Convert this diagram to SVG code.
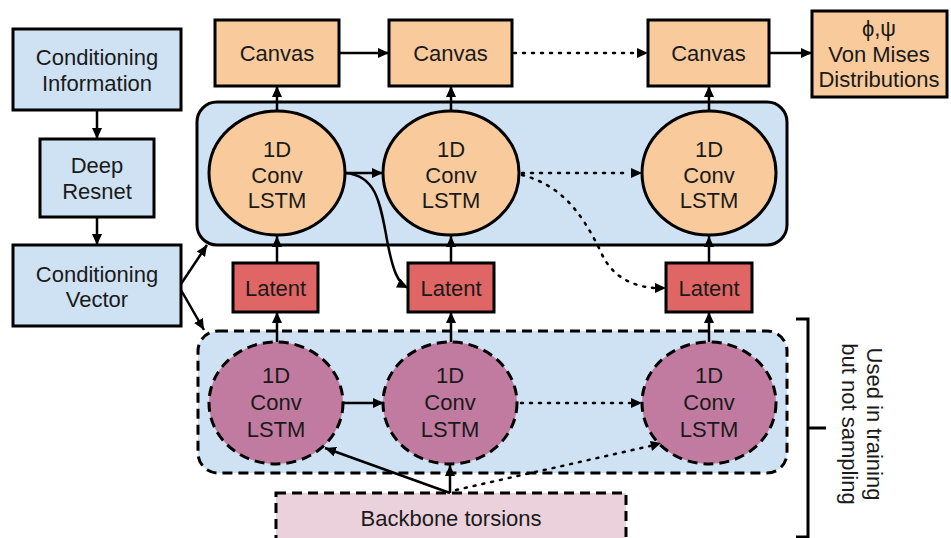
<svg xmlns="http://www.w3.org/2000/svg" width="951" height="538" viewBox="0 0 951 538">
  <defs>
    <marker id="arrow" viewBox="0 0 11 10" refX="11" refY="5" markerWidth="11" markerHeight="10" markerUnits="userSpaceOnUse" orient="auto">
      <path d="M0,0 L11,5 L0,10 z" fill="#000"/>
    </marker>
    <style>
      text { font-family: "Liberation Sans", Arial, sans-serif; font-size: 22px; fill: #1a1a1a; text-anchor: middle; }
      .box { stroke: #000; stroke-width: 3; }
      .blue { fill: #cfe2f3; }
      .orange { fill: #f9cb9c; }
      .red { fill: #e06666; }
      .purple { fill: #c27ba0; }
      .pink { fill: #ead1dc; }
      .dash { stroke-dasharray: 10 6; }
      .edge { fill: none; stroke: #000; stroke-width: 2.5; }
      .dot { stroke-dasharray: 2 7; stroke-linecap: round; }
    </style>
  </defs>

  <!-- containers -->
  <g id="decoder-stack">
    <rect class="box blue" x="197" y="102" width="590" height="143" rx="20"/>
  </g>
  <g id="encoder-stack">
    <rect class="box blue dash" x="198" y="331" width="589" height="142" rx="20"/>
  </g>

  <!-- conditioning path -->
  <g id="cond-info">
    <rect class="box blue" x="13" y="29" width="168" height="81"/>
    <text x="97" y="65">Conditioning</text>
    <text x="97" y="91">Information</text>
  </g>
  <g id="deep-resnet">
    <rect class="box blue" x="40" y="139" width="114" height="78"/>
    <text x="97" y="173">Deep</text>
    <text x="97" y="199">Resnet</text>
  </g>
  <g id="cond-vector">
    <rect class="box blue" x="13" y="245" width="168" height="81"/>
    <text x="97" y="282">Conditioning</text>
    <text x="97" y="307">Vector</text>
  </g>

  <!-- canvases -->
  <g id="canvas-1">
    <rect class="box orange" x="215" y="20" width="124" height="66"/>
    <text x="277" y="61">Canvas</text>
  </g>
  <g id="canvas-2">
    <rect class="box orange" x="389" y="20" width="123" height="66"/>
    <text x="450.5" y="61">Canvas</text>
  </g>
  <g id="canvas-3">
    <rect class="box orange" x="648" y="20" width="121" height="66"/>
    <text x="708.5" y="61">Canvas</text>
  </g>
  <g id="von-mises">
    <rect class="box orange" x="812" y="11" width="135" height="86"/>
    <text x="879" y="36">ϕ,ψ</text>
    <text x="879" y="62">Von Mises</text>
    <text x="879" y="87">Distributions</text>
  </g>

  <!-- decoder LSTMs -->
  <g id="dec-lstm-1">
    <ellipse class="box orange" cx="277" cy="173" rx="68" ry="62"/>
    <text x="277" y="157">1D</text>
    <text x="277" y="183">Conv</text>
    <text x="277" y="208">LSTM</text>
  </g>
  <g id="dec-lstm-2">
    <ellipse class="box orange" cx="451" cy="173" rx="68" ry="62"/>
    <text x="451" y="157">1D</text>
    <text x="451" y="183">Conv</text>
    <text x="451" y="208">LSTM</text>
  </g>
  <g id="dec-lstm-3">
    <ellipse class="box orange" cx="709" cy="173" rx="67" ry="62"/>
    <text x="709" y="157">1D</text>
    <text x="709" y="183">Conv</text>
    <text x="709" y="208">LSTM</text>
  </g>

  <!-- latents -->
  <g id="latent-1">
    <rect class="box red" x="233" y="263" width="85" height="49"/>
    <text x="275.5" y="296">Latent</text>
  </g>
  <g id="latent-2">
    <rect class="box red" x="408" y="263" width="86" height="49"/>
    <text x="451" y="296">Latent</text>
  </g>
  <g id="latent-3">
    <rect class="box red" x="666" y="263" width="86" height="49"/>
    <text x="709" y="296">Latent</text>
  </g>

  <!-- encoder LSTMs -->
  <g id="enc-lstm-1">
    <ellipse class="box purple dash" cx="276" cy="403" rx="67" ry="61"/>
    <text x="276" y="383">1D</text>
    <text x="276" y="410">Conv</text>
    <text x="276" y="437">LSTM</text>
  </g>
  <g id="enc-lstm-2">
    <ellipse class="box purple dash" cx="450" cy="403" rx="67" ry="61"/>
    <text x="450" y="383">1D</text>
    <text x="450" y="410">Conv</text>
    <text x="450" y="437">LSTM</text>
  </g>
  <g id="enc-lstm-3">
    <ellipse class="box purple dash" cx="709" cy="403" rx="67" ry="61"/>
    <text x="709" y="383">1D</text>
    <text x="709" y="410">Conv</text>
    <text x="709" y="437">LSTM</text>
  </g>

  <g id="backbone">
    <rect class="box pink dash" x="276" y="493" width="350" height="60"/>
    <text x="451" y="526">Backbone torsions</text>
  </g>

  <!-- bracket and side label -->
  <g id="training-note">
    <path d="M796,319 L808,319 L808,537 L796,537 M808,428 L826,428" fill="none" stroke="#000" stroke-width="3"/>
    <text transform="translate(875,424) rotate(90)" dy="0.35em">Used in training</text>
    <text transform="translate(850,424) rotate(90)" dy="0.35em">but not sampling</text>
  </g>

  <!-- connectors -->
  <g id="connectors">
    <line class="edge" x1="97" y1="110" x2="97" y2="139" marker-end="url(#arrow)"/>
    <line class="edge" x1="97" y1="217" x2="97" y2="245" marker-end="url(#arrow)"/>
    <line class="edge" x1="181" y1="284" x2="207" y2="245" marker-end="url(#arrow)"/>
    <line class="edge" x1="181" y1="290" x2="204" y2="330" marker-end="url(#arrow)"/>

    <line class="edge" x1="339" y1="53" x2="389" y2="53" marker-end="url(#arrow)"/>
    <line class="edge dot" x1="514" y1="53" x2="636" y2="53"/>
    <path d="M637,48 L648,53 L637,58 z"/>
    <line class="edge" x1="769" y1="53" x2="812" y2="53" marker-end="url(#arrow)"/>

    <line class="edge" x1="277" y1="111" x2="277" y2="86" marker-end="url(#arrow)"/>
    <line class="edge" x1="451" y1="111" x2="451" y2="86" marker-end="url(#arrow)"/>
    <line class="edge" x1="709" y1="111" x2="709" y2="86" marker-end="url(#arrow)"/>

    <line class="edge" x1="345" y1="173" x2="383" y2="173" marker-end="url(#arrow)"/>
    <path class="edge" d="M345,173 C375,175 380,200 387,240 C393,272 398,283 408,288" marker-end="url(#arrow)"/>
    <line class="edge dot" x1="522" y1="173" x2="630" y2="173"/>
    <path d="M631,168 L642,173 L631,178 z"/>
    <path class="edge dot" d="M522,175 C560,185 580,210 600,250 C610,275 630,286 654,288"/>
    <path d="M655,283 L666,288 L655,293 z"/>

    <line class="edge" x1="277" y1="263" x2="277" y2="236" marker-end="url(#arrow)"/>
    <line class="edge" x1="451" y1="263" x2="451" y2="236" marker-end="url(#arrow)"/>
    <line class="edge" x1="709" y1="263" x2="709" y2="236" marker-end="url(#arrow)"/>

    <line class="edge" x1="277" y1="342" x2="277" y2="312" marker-end="url(#arrow)"/>
    <line class="edge" x1="451" y1="342" x2="451" y2="312" marker-end="url(#arrow)"/>
    <line class="edge" x1="709" y1="342" x2="709" y2="312" marker-end="url(#arrow)"/>

    <line class="edge" x1="343" y1="403" x2="384" y2="403" marker-end="url(#arrow)"/>
    <line class="edge dot" x1="521" y1="403" x2="630" y2="403"/>
    <path d="M631,398 L642,403 L631,408 z"/>

    <line class="edge" x1="450" y1="493" x2="325" y2="448" marker-end="url(#arrow)"/>
    <line class="edge" x1="450" y1="493" x2="450" y2="465" marker-end="url(#arrow)"/>
    <line class="edge dot" x1="456" y1="490" x2="650" y2="446"/>
    <path d="M650,441 L661,443 L652,451 z"/>
  </g>
</svg>
